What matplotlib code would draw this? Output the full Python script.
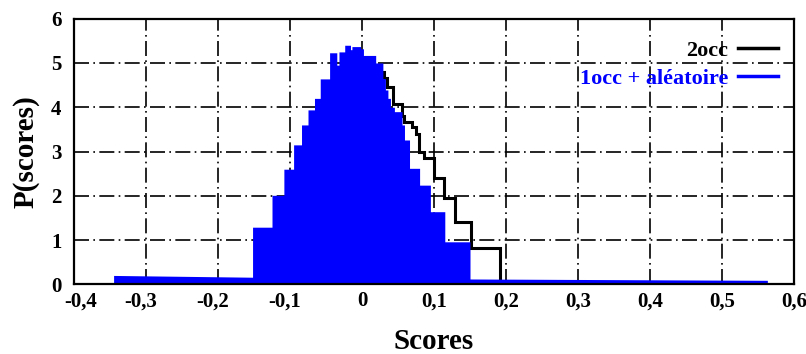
import matplotlib
matplotlib.use("Agg")
import matplotlib.pyplot as plt
import matplotlib.transforms as mtransforms
from matplotlib.lines import Line2D

plt.rcParams['font.family'] = ['Liberation Serif', 'DejaVu Serif']
plt.rcParams['font.weight'] = 'bold'

# 1occ + aleatoire : histogram bins (edges) and densities
blue_edges = [-0.152, -0.125, -0.1085, -0.095, -0.084, -0.075, -0.066, -0.058,
              -0.045, -0.035, -0.032, -0.024, -0.016, -0.014, -0.002, 0.002,
              0.019, 0.029, 0.0325, 0.036, 0.0395, 0.045, 0.0556, 0.059,
              0.066, 0.080, 0.095, 0.115, 0.150]
blue_heights = [1.29, 2.01, 2.60, 3.15, 3.60, 3.94, 4.20, 4.64,
                5.23, 4.95, 5.25, 5.40, 5.30, 5.37, 5.32, 5.17,
                5.00, 4.65, 4.39, 4.20, 4.00, 3.90, 3.60, 3.26,
                2.62, 2.24, 1.64, 0.96]
# sparse tails on both sides
blue_tail_left_x = [-0.345, -0.152]
blue_tail_left_y = [0.20, 0.16]
blue_tail_right_x = [0.150, 0.563]
blue_tail_right_y = [0.12, 0.09]

# 2occ : step histogram
black_edges = [-0.14, -0.10, -0.07, -0.04, 0.0, 0.030, 0.035, 0.043, 0.056,
               0.058, 0.0695, 0.075, 0.079, 0.086, 0.100, 0.114, 0.129,
               0.151, 0.1915]
black_heights = [1.0, 2.0, 3.0, 4.2, 4.8, 4.65, 4.46, 4.07, 3.80,
                 3.67, 3.56, 3.40, 3.00, 2.85, 2.40, 1.96, 1.41,
                 0.81]

xticks = [-0.4, -0.3, -0.2, -0.1, 0.0, 0.1, 0.2, 0.3, 0.4, 0.5, 0.6]
xtick_labels = ['-0,4', '-0,3', '-0,2', '-0,1', '0', '0,1', '0,2', '0,3',
                '0,4', '0,5', '0,6']
yticks = [0, 1, 2, 3, 4, 5, 6]

BLUE = '#0000ff'


def step_points(edges, heights):
    xs, ys = [], []
    for i, h in enumerate(heights):
        xs += [edges[i], edges[i + 1]]
        ys += [h, h]
    return xs, ys


fig = plt.figure(figsize=(8.06, 3.54), dpi=100)
ax = fig.add_axes([74 / 806, 1 - 284.3 / 354, (794 - 74) / 806, (284.3 - 18.7) / 354])

# black step line (drawn under the blue fill)
bx, by = step_points(black_edges, black_heights)
bx = [bx[0]] + bx + [bx[-1]]
by = [0] + by + [0]
ax.plot(bx, by, color='black', lw=2.2, zorder=2, solid_joinstyle='miter')

# blue filled curve with its tails
sx, sy = step_points(blue_edges, blue_heights)
fx = blue_tail_left_x + sx + blue_tail_right_x
fy = blue_tail_left_y + sy + blue_tail_right_y
ax.fill_between(fx, fy, 0, color=BLUE, lw=0, zorder=3)

ax.set_xlim(-0.4, 0.6)
ax.set_ylim(0, 6)
ax.set_xticks(xticks)
ax.set_xticklabels(xtick_labels)
ax.set_yticks(yticks)

ax.grid(True, color='black', lw=1.2, linestyle=(0, (9, 2.6, 1, 2.6)), zorder=4)
ax.set_axisbelow(False)
for sp in ax.spines.values():
    sp.set_linewidth(1.6)
    sp.set_zorder(5)
ax.tick_params(direction='in', length=0, labelsize=15)
ax.tick_params(axis='x', pad=5)
ax.tick_params(axis='y', pad=9)

# nudge negative labels left a little, and the first one clear of the y "0"
for lab in ax.get_xticklabels():
    txt = lab.get_text()
    dx = 0
    if txt == '-0,4':
        dx = 7
    elif txt.startswith('-'):
        dx = -5
    if dx:
        lab.set_transform(lab.get_transform() +
                          mtransforms.ScaledTranslation(dx / 100, 0, fig.dpi_scale_trans))

ax.set_xlabel('Scores', fontsize=21, fontweight='bold', labelpad=12)
ax.set_ylabel('P(scores)', fontsize=21, fontweight='bold', labelpad=8)

handles = [Line2D([], [], color='black', lw=2.5),
           Line2D([], [], color=BLUE, lw=2.5)]
leg = ax.legend(handles, ['2occ', '1occ + aléatoire'], loc='upper right',
                bbox_to_anchor=(0.978, 0.92), frameon=False, markerfirst=False,
                fontsize=16, handlelength=1.8, handletextpad=0.45,
                labelspacing=0.36, borderaxespad=0, borderpad=0)
leg.get_texts()[1].set_color(BLUE)
leg.set_zorder(6)

fig.savefig('out.png', dpi=100)
